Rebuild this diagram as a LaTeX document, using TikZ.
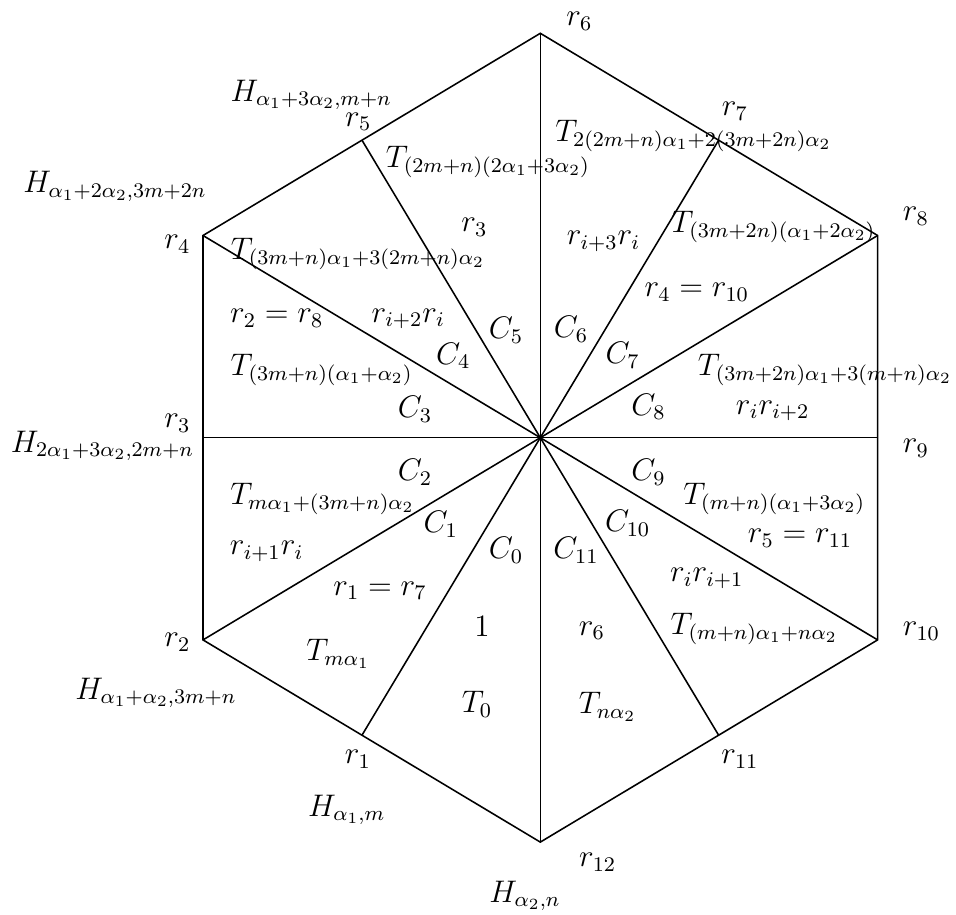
\documentclass[tikz,border=0pt,12pt]{standalone}
\usetikzlibrary{calc}
\begin{document}
\begin{tikzpicture}[x=0.3846pt,y=-0.3846pt,
  lab/.style={inner sep=0pt,outer sep=0pt},
  edge/.style={line width=0.6pt,black}]
\useasboundingbox (0,0) rectangle (956,915);
% vertices
\coordinate (O) at (540.3,437.7);
\coordinate (V6) at (540.3,33.3);
\coordinate (V4) at (203,235.5);
\coordinate (V8) at (877.6,235.5);
\coordinate (V2) at (203,639.9);
\coordinate (V10) at (877.6,639.9);
\coordinate (V12) at (540.3,842.1);
\coordinate (M3) at (203,437.7);
\coordinate (M9) at (877.6,437.7);
\coordinate (F5) at ($(V6)!(O)!(V4)$);
\coordinate (F7) at ($(V6)!(O)!(V8)$);
\coordinate (F1) at ($(V12)!(O)!(V2)$);
\coordinate (F11) at ($(V12)!(O)!(V10)$);
% hexagon
\draw[edge] (V6) -- (V8) -- (V10) -- (V12) -- (V2) -- (V4) -- cycle;
% rays
\foreach \p in {V6,F7,V8,M9,V10,F11,V12,F1,V2,M3,V4,F5}
  \draw[edge] (O) -- (\p);
% outer labels
\node[lab] (o6) at (579.3,21) {$r_6$};
\node[lab] (o7) at (735,111) {$r_7$};
\node[lab] (o8) at (916,216) {$r_8$};
\node[lab] (o9) at (916,448) {$r_9$};
\node[lab] (o10) at (921.5,631) {$r_{10}$};
\node[lab] (o11) at (740,759) {$r_{11}$};
\node[lab] (o12) at (597.7,862.5) {$r_{12}$};
\node[lab] (h12) at (525,896) {$H_{\alpha_2,n}$};
\node[lab] (h1) at (346.7,810) {$H_{\alpha_1,m}$};
\node[lab] (o1) at (358,759) {$r_1$};
\node[lab] (h2) at (156,693) {$H_{\alpha_1+\alpha_2,3m+n}$};
\node[lab] (o2) at (177.5,642) {$r_2$};
\node[lab] (h3) at (102.5,446) {$H_{2\alpha_1+3\alpha_2,2m+n}$};
\node[lab] (o3) at (177.5,423) {$r_3$};
\node[lab] (o4) at (177.5,244) {$r_4$};
\node[lab] (h4) at (115,186.7) {$H_{\alpha_1+2\alpha_2,3m+2n}$};
\node[lab] (h5) at (311.3,95) {$H_{\alpha_1+3\alpha_2,m+n}$};
\node[lab] (o5) at (358.3,121.7) {$r_5$};
% inner labels, upper left
\node[lab] (t5) at (488,161.7) {$T_{(2m+n)(2\alpha_1+3\alpha_2)}$};
\node[lab] (i3) at (474.5,227.5) {$r_3$};
\node[lab] (t4) at (358,254) {$T_{(3m+n)\alpha_1+3(2m+n)\alpha_2}$};
\node[lab] (e28) at (276.7,318.3) {$r_2=r_8$};
\node[lab] (w2) at (408.3,319) {$r_{i+2}r_i$};
\node[lab] (c4) at (453.3,355.8) {$C_4$};
\node[lab] (c5) at (506,330) {$C_5$};
\node[lab] (t3) at (321.7,370) {$T_{(3m+n)(\alpha_1+\alpha_2)}$};
\node[lab] (c3) at (415,409) {$C_3$};
% inner labels, upper right
\node[lab] (t6) at (693.5,135.8) {$T_{2(2m+n)\alpha_1+2(3m+2n)\alpha_2}$};
\node[lab] (w3) at (603.5,241.7) {$r_{i+3}r_i$};
\node[lab] (t7) at (773.5,226.7) {$T_{(3m+2n)(\alpha_1+2\alpha_2)}$};
\node[lab] (e410) at (696.8,292.5) {$r_4=r_{10}$};
\node[lab] (c6) at (571,329) {$C_6$};
\node[lab] (c7) at (622.7,355) {$C_7$};
\node[lab] (t8) at (825,370) {$T_{(3m+2n)\alpha_1+3(m+n)\alpha_2}$};
\node[lab] (c8) at (648.5,406.7) {$C_8$};
\node[lab] (w4) at (772.7,410.8) {$r_ir_{i+2}$};
% inner labels, lower left
\node[lab] (c2) at (415,472.5) {$C_2$};
\node[lab] (t2) at (322.5,499) {$T_{m\alpha_1+(3m+n)\alpha_2}$};
\node[lab] (c1) at (440.8,524) {$C_1$};
\node[lab] (w1) at (266.7,551.7) {$r_{i+1}r_i$};
\node[lab] (e17) at (380,590.8) {$r_1=r_7$};
\node[lab] (t1) at (338.3,654) {$T_{m\alpha_1}$};
\node[lab] (c0) at (506,550) {$C_0$};
\node[lab] (one) at (482,626) {$1$};
\node[lab] (t0) at (477,704) {$T_0$};
% inner labels, lower right
\node[lab] (c11) at (576,550) {$C_{11}$};
\node[lab] (c10) at (627.7,523.3) {$C_{10}$};
\node[lab] (c9) at (648.5,472.5) {$C_9$};
\node[lab] (t9) at (774.3,499) {$T_{(m+n)(\alpha_1+3\alpha_2)}$};
\node[lab] (e511) at (800,538.3) {$r_5=r_{11}$};
\node[lab] (w5) at (706.8,578.3) {$r_ir_{i+1}$};
\node[lab] (i6) at (591.8,630.8) {$r_6$};
\node[lab] (t10) at (754.3,629) {$T_{(m+n)\alpha_1+n\alpha_2}$};
\node[lab] (t11) at (607.7,706.7) {$T_{n\alpha_2}$};
\end{tikzpicture}
\end{document}
